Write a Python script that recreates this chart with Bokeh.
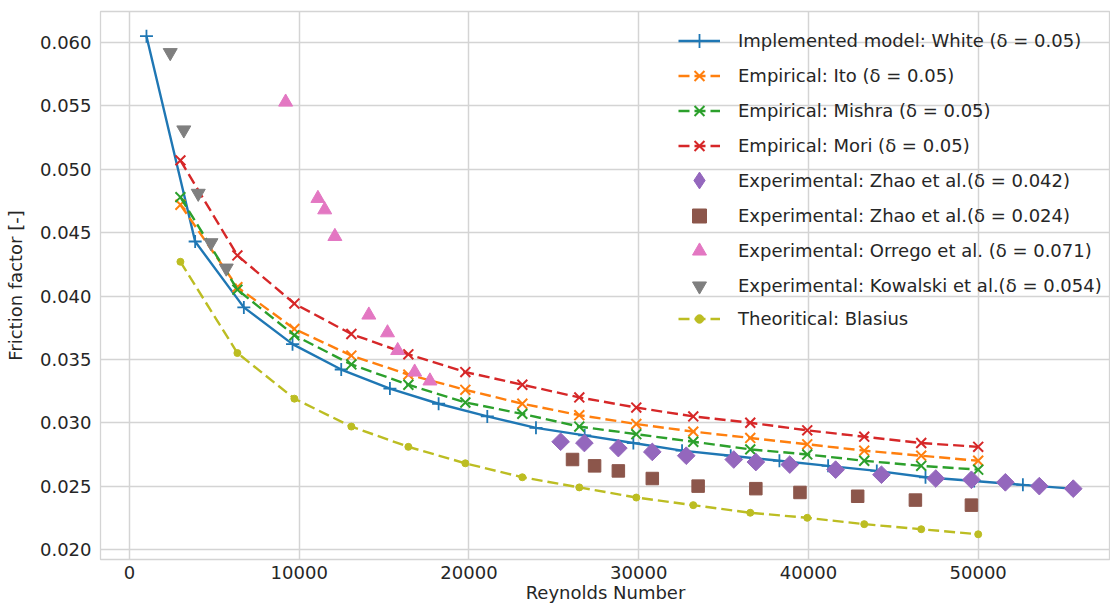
import numpy as np
from bokeh.plotting import figure
from bokeh.models import Range1d, FixedTicker, NumeralTickFormatter, Legend, LegendItem
from bokeh.embed import file_html
from bokeh.resources import INLINE

# Implemented model (White correlation), delta = 0.05
re_white = [1000, 3868, 6737, 9605, 12474, 15342, 18211, 21079, 23947, 26816,
            29684, 32553, 35421, 38289, 41158, 44026, 46895, 49763, 52632, 55500]
f_white = [0.0605, 0.0443, 0.0391, 0.0362, 0.0342, 0.0327, 0.0315, 0.0305, 0.0296, 0.0290,
           0.0284, 0.0278, 0.0274, 0.0270, 0.0266, 0.0262, 0.0257, 0.0254, 0.0251, 0.0248]

# Empirical correlations and Blasius, evaluated at the same Reynolds numbers
re_emp = [3000, 6357, 9714, 13071, 16429, 19786, 23143, 26500, 29857, 33214,
          36571, 39929, 43286, 46643, 50000]
f_ito = [0.0472, 0.0407, 0.0374, 0.0353, 0.0338, 0.0326, 0.0315, 0.0306, 0.0299, 0.0293,
         0.0288, 0.0283, 0.0278, 0.0274, 0.0270]
f_mishra = [0.0478, 0.0405, 0.0369, 0.0346, 0.0330, 0.0316, 0.0307, 0.0297, 0.0291, 0.0285,
            0.0279, 0.0275, 0.0270, 0.0266, 0.0263]
f_mori = [0.0507, 0.0432, 0.0394, 0.0370, 0.0354, 0.0340, 0.0330, 0.0320, 0.0312, 0.0305,
          0.0300, 0.0294, 0.0289, 0.0284, 0.0281]
f_blasius = [0.0427, 0.0355, 0.0319, 0.0297, 0.0281, 0.0268, 0.0257, 0.0249, 0.0241, 0.0235,
             0.0229, 0.0225, 0.0220, 0.0216, 0.0212]

# Experimental data sets
re_zhao042 = [25400, 26800, 28800, 30800, 32800, 35600, 36900, 38900, 41600, 44300,
              47500, 49600, 51600, 53600, 55600]
f_zhao042 = [0.0285, 0.0284, 0.0280, 0.0277, 0.0274, 0.0271, 0.0269, 0.0267, 0.0263, 0.0259,
             0.0256, 0.0255, 0.0253, 0.0250, 0.0248]

re_zhao024 = [26100, 27400, 28800, 30800, 33500, 36900, 39500, 42900, 46300, 49600]
f_zhao024 = [0.0271, 0.0266, 0.0262, 0.0256, 0.0250, 0.0248, 0.0245, 0.0242, 0.0239, 0.0235]

re_orrego = [9200, 11100, 11500, 12100, 14100, 15200, 15800, 16800, 17700]
f_orrego = [0.0553, 0.0477, 0.0468, 0.0447, 0.0385, 0.0371, 0.0357, 0.0340, 0.0333]

re_kowalski = [2400, 3200, 4050, 4800, 5700]
f_kowalski = [0.0592, 0.0531, 0.0481, 0.0442, 0.0422]

x_ticks = [0, 10000, 20000, 30000, 40000, 50000]
y_ticks = [0.020, 0.025, 0.030, 0.035, 0.040, 0.045, 0.050, 0.055, 0.060]

FONT = "DejaVu Sans"
TEXT = "#262626"
GRID = "#d4d4d4"

p = figure(width=1110, height=610, output_backend="svg", toolbar_location=None,
           x_range=Range1d(-1708, 57794), y_range=Range1d(0.019211, 0.062446),
           min_border_left=100, min_border_right=0, min_border_top=11, min_border_bottom=51,
           background_fill_color="white", border_fill_color="white")

p.outline_line_color = GRID
p.outline_line_width = 1.3

p.xaxis.ticker = FixedTicker(ticks=x_ticks)
p.yaxis.ticker = FixedTicker(ticks=y_ticks)
p.xaxis.formatter = NumeralTickFormatter(format="0")
p.yaxis.formatter = NumeralTickFormatter(format="0.000")
for ax in (p.xaxis, p.yaxis):
    ax.axis_line_color = None
    ax.major_tick_line_color = None
    ax.minor_tick_line_color = None
    ax.major_tick_out = 0
    ax.major_label_text_font = FONT
    ax.major_label_text_font_size = "18px"
    ax.major_label_text_color = TEXT
    ax.axis_label_text_font = FONT
    ax.axis_label_text_font_size = "18px"
    ax.axis_label_text_font_style = "normal"
    ax.axis_label_text_color = TEXT
p.xaxis.axis_label = "Reynolds Number"
p.yaxis.axis_label = "Friction factor [-]"
p.xaxis.major_label_standoff = 6
p.yaxis.major_label_standoff = 9
p.xaxis.axis_label_standoff = 0
p.yaxis.axis_label_standoff = 11

p.grid.grid_line_color = GRID
p.grid.grid_line_width = 1.5

BLUE, ORANGE, GREEN, RED = "#1f77b4", "#ff7f0e", "#2ca02c", "#d62728"
PURPLE, BROWN, PINK, GRAY, OLIVE = "#9467bd", "#8c564b", "#e377c2", "#7f7f7f", "#bcbd22"
DASH = "11 5"

model_items = []

r1 = p.line(re_white, f_white, line_color=BLUE, line_width=2.4)
r2 = p.scatter(re_white, f_white, marker="cross", size=13, line_color=BLUE, line_width=1.8)
model_items.append(LegendItem(label="Implemented model: White (δ = 0.05)", renderers=[r1, r2]))

for f, c, name in [(f_ito, ORANGE, "Ito"), (f_mishra, GREEN, "Mishra"), (f_mori, RED, "Mori")]:
    rl = p.line(re_emp, f, line_color=c, line_width=2.4, line_dash=DASH)
    rs = p.scatter(re_emp, f, marker="x", size=14, line_color=c, line_width=2)
    model_items.append(LegendItem(label=f"Empirical: {name} (δ = 0.05)", renderers=[rl, rs]))

rd = p.scatter(re_zhao042, f_zhao042, marker="square", angle=np.pi / 4, size=12.5,
               fill_color=PURPLE, line_color=PURPLE)
# legend keys are drawn unrotated, so the key uses a diamond-shaped twin that stays hidden
rd_key = p.scatter(re_zhao042, f_zhao042, marker="diamond", fill_color=PURPLE,
                   line_color=PURPLE, visible=False)
zhao042_item = LegendItem(label="Experimental: Zhao et al.(δ = 0.042)", renderers=[rd_key])

exp_items = []
rq = p.scatter(re_zhao024, f_zhao024, marker="square", size=12.5,
               fill_color=BROWN, line_color=BROWN)
exp_items.append(LegendItem(label="Experimental: Zhao et al.(δ = 0.024)", renderers=[rq]))

rt = p.scatter(re_orrego, f_orrego, marker="triangle", size=14,
               fill_color=PINK, line_color=PINK)
exp_items.append(LegendItem(label="Experimental: Orrego et al. (δ = 0.071)", renderers=[rt]))

rv = p.scatter(re_kowalski, f_kowalski, marker="inverted_triangle", size=14,
               fill_color=GRAY, line_color=GRAY)
exp_items.append(LegendItem(label="Experimental: Kowalski et al.(δ = 0.054)", renderers=[rv]))

rb1 = p.line(re_emp, f_blasius, line_color=OLIVE, line_width=2.4, line_dash=DASH)
rb2 = p.scatter(re_emp, f_blasius, marker="circle", size=7, fill_color=OLIVE, line_color=OLIVE)
blasius_item = LegendItem(label="Theoritical: Blasius", renderers=[rb1, rb2])

legend_style = dict(border_line_color=None, background_fill_alpha=0,
                    inactive_fill_alpha=0,
                    label_text_font=FONT, label_text_font_size="18px", label_text_color=TEXT,
                    glyph_width=42, label_standoff=18, spacing=0, padding=0, margin=0)

# legend keys scale with the row height, so the rows are split into stacked blocks
p.add_layout(Legend(items=model_items, location=(578, 396),
                    glyph_height=35, label_height=35, **legend_style))
p.add_layout(Legend(items=[zhao042_item], location=(578, 355),
                    glyph_height=48, label_height=48, **legend_style))
p.add_layout(Legend(items=exp_items, location=(578, 256),
                    glyph_height=35, label_height=35, **legend_style))
p.add_layout(Legend(items=[blasius_item], location=(578, 230),
                    glyph_height=21, label_height=21, **legend_style))

open("out.html", "w").write(file_html(p, INLINE))
